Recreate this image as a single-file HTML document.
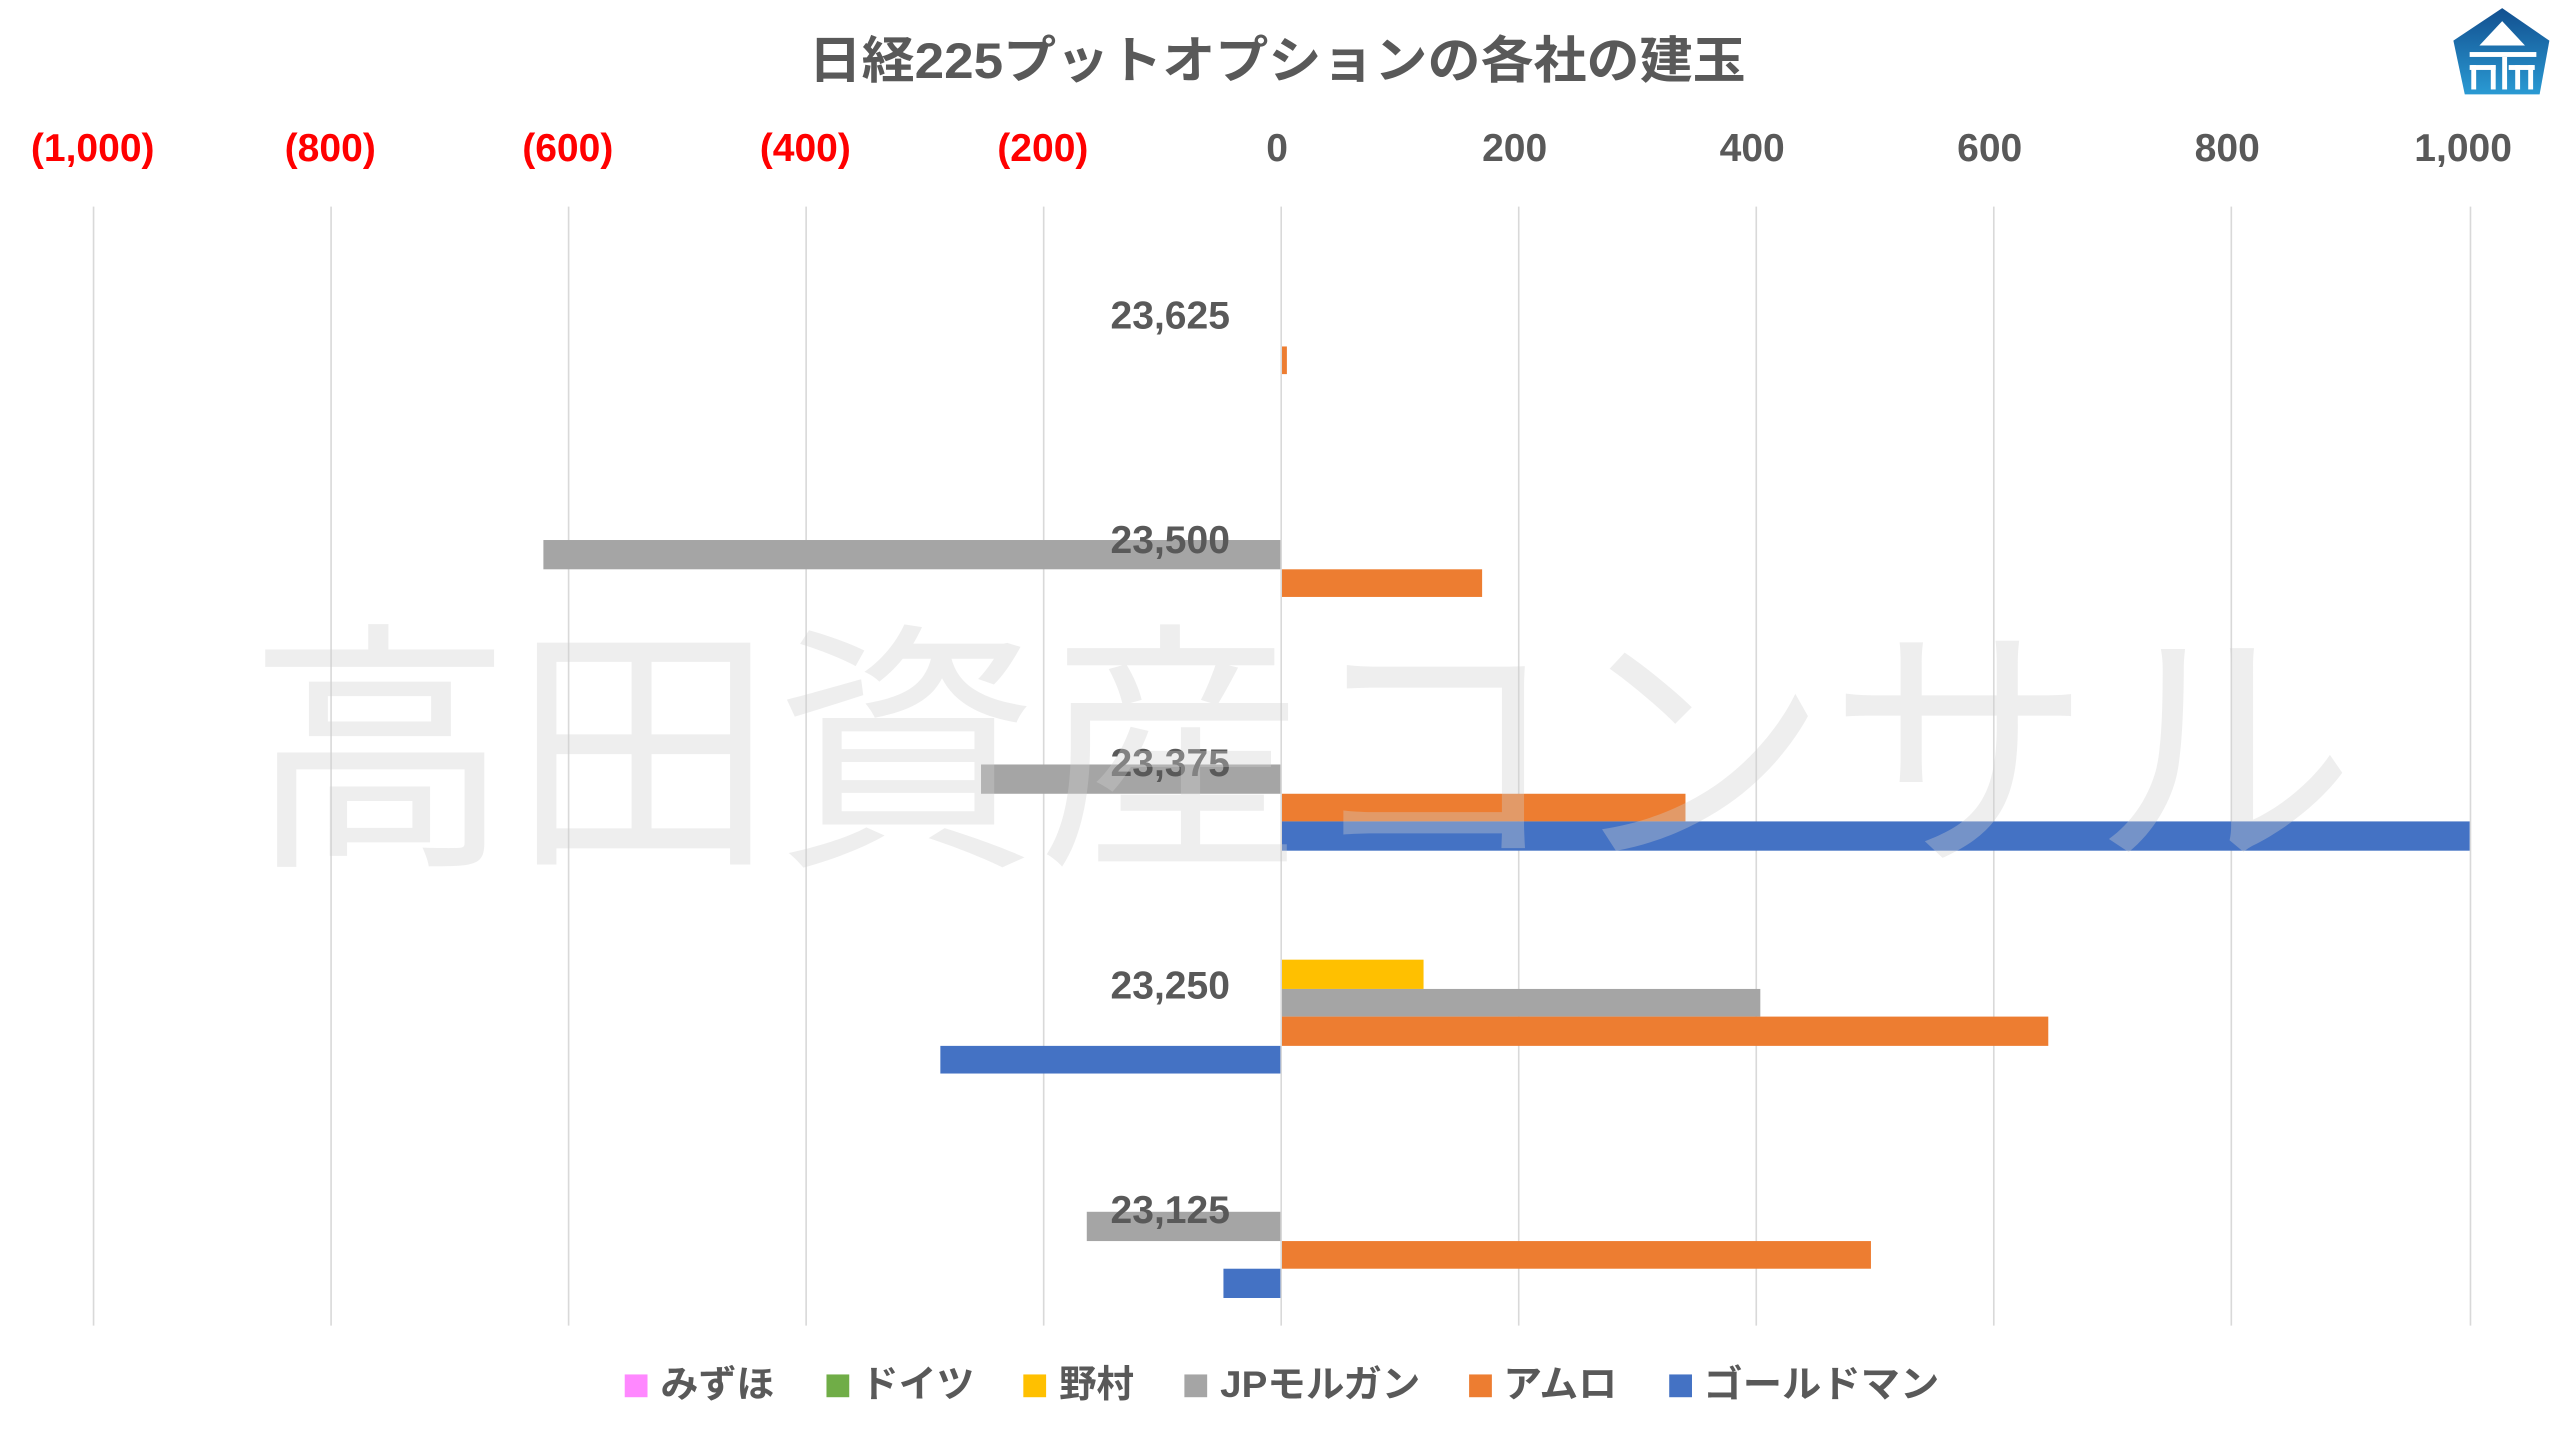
<!DOCTYPE html>
<html><head><meta charset="utf-8"><style>
html,body{margin:0;padding:0;background:#fff;}
svg{display:block;}
text{font-family:"Liberation Sans","Noto Sans CJK JP",sans-serif;font-weight:bold;}
</style></head><body>
<svg width="2551" height="1433" viewBox="0 0 1568 881" preserveAspectRatio="none" xmlns="http://www.w3.org/2000/svg">
<defs><linearGradient id="lg" x1="0" y1="0" x2="0" y2="1"><stop offset="0" stop-color="#124f8f"/><stop offset="1" stop-color="#2a9ad3"/></linearGradient></defs>
<rect width="1568" height="881" fill="#fff"/>
<text x="785" y="48" font-size="31" fill="#595959" text-anchor="middle" textLength="576" lengthAdjust="spacingAndGlyphs">日経225プットオプションの各社の建玉</text>
<g font-size="24" text-anchor="middle">
<text x="57" y="99" fill="#ff0000">(1,000)</text>
<text x="203" y="99" fill="#ff0000">(800)</text>
<text x="349" y="99" fill="#ff0000">(600)</text>
<text x="495" y="99" fill="#ff0000">(400)</text>
<text x="641" y="99" fill="#ff0000">(200)</text>
<text x="785" y="99" fill="#595959">0</text>
<text x="931" y="99" fill="#595959">200</text>
<text x="1077" y="99" fill="#595959">400</text>
<text x="1223" y="99" fill="#595959">600</text>
<text x="1369" y="99" fill="#595959">800</text>
<text x="1514" y="99" fill="#595959">1,000</text>
</g>
<g stroke="#d9d9d9" stroke-width="1">
<line x1="57.5" y1="127" x2="57.5" y2="815"/><line x1="203.5" y1="127" x2="203.5" y2="815"/><line x1="349.5" y1="127" x2="349.5" y2="815"/><line x1="495.5" y1="127" x2="495.5" y2="815"/><line x1="641.5" y1="127" x2="641.5" y2="815"/><line x1="787.5" y1="127" x2="787.5" y2="815"/><line x1="933.5" y1="127" x2="933.5" y2="815"/><line x1="1079.5" y1="127" x2="1079.5" y2="815"/><line x1="1225.5" y1="127" x2="1225.5" y2="815"/><line x1="1371.5" y1="127" x2="1371.5" y2="815"/><line x1="1518.5" y1="127" x2="1518.5" y2="815"/>
</g>
<g>
<rect x="788" y="213" width="3" height="17" fill="#ed7d31"/>
<rect x="334" y="332" width="453" height="18" fill="#a5a5a5"/>
<rect x="788" y="350" width="123" height="17" fill="#ed7d31"/>
<rect x="603" y="470" width="184" height="18" fill="#a5a5a5"/>
<rect x="788" y="488" width="248" height="17" fill="#ed7d31"/>
<rect x="788" y="505" width="730" height="18" fill="#4472c4"/>
<rect x="788" y="590" width="87" height="18" fill="#ffc000"/>
<rect x="788" y="608" width="294" height="17" fill="#a5a5a5"/>
<rect x="788" y="625" width="471" height="18" fill="#ed7d31"/>
<rect x="578" y="643" width="209" height="17" fill="#4472c4"/>
<rect x="668" y="745" width="119" height="18" fill="#a5a5a5"/>
<rect x="788" y="763" width="362" height="17" fill="#ed7d31"/>
<rect x="752" y="780" width="35" height="18" fill="#4472c4"/>
</g>
<g font-size="24" fill="#595959" text-anchor="end">
<text x="756" y="202">23,625</text>
<text x="756" y="340">23,500</text>
<text x="756" y="477">23,375</text>
<text x="756" y="614">23,250</text>
<text x="756" y="752">23,125</text>
</g>
<text x="800" y="520" font-size="162" fill="#d0d0d0" opacity="0.35" text-anchor="middle" textLength="1295" lengthAdjust="spacingAndGlyphs" style="font-weight:normal;font-family:'Noto Sans CJK JP',sans-serif">高田資産コンサル</text>
<g font-size="23" fill="#595959">
<rect x="384" y="845" width="14" height="14" fill="#ff88ff"/><text x="406" y="859" textLength="70" lengthAdjust="spacingAndGlyphs">みずほ</text>
<rect x="508" y="845" width="14" height="14" fill="#70ad47"/><text x="529" y="859" textLength="70" lengthAdjust="spacingAndGlyphs">ドイツ</text>
<rect x="629" y="845" width="14" height="14" fill="#ffc000"/><text x="651" y="859" textLength="46" lengthAdjust="spacingAndGlyphs">野村</text>
<rect x="728" y="845" width="14" height="14" fill="#a5a5a5"/><text x="750" y="859" textLength="123" lengthAdjust="spacingAndGlyphs">JPモルガン</text>
<rect x="903" y="845" width="14" height="14" fill="#ed7d31"/><text x="924" y="859" textLength="70" lengthAdjust="spacingAndGlyphs">アムロ</text>
<rect x="1026" y="845" width="14" height="14" fill="#4472c4"/><text x="1047" y="859" textLength="145" lengthAdjust="spacingAndGlyphs">ゴールドマン</text>
</g>
<g>
<polygon points="1538,5 1567,25 1561,58 1515,58 1508,25" fill="url(#lg)"/>
<polygon points="1538,13 1552,28 1524,28" fill="#fff"/>
<rect x="1518" y="32" width="41" height="3" fill="#fff"/>
<rect x="1518" y="40" width="16" height="3" fill="#fff"/>
<rect x="1519" y="40" width="3" height="15" fill="#fff"/>
<rect x="1531" y="40" width="3" height="15" fill="#fff"/>
<rect x="1538" y="35" width="3" height="20" fill="#fff"/>
<rect x="1542" y="40" width="16" height="3" fill="#fff"/>
<rect x="1546" y="40" width="3" height="15" fill="#fff"/>
<rect x="1554" y="40" width="3" height="15" fill="#fff"/>
</g>
</svg>
</body></html>
